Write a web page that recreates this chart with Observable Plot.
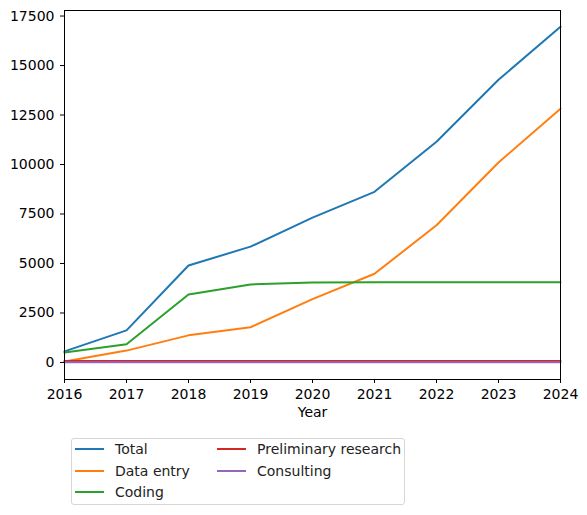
<!DOCTYPE html>
<html><head><meta charset="utf-8">
<script src="https://cdn.jsdelivr.net/npm/d3@7"></script>
<script src="https://cdn.jsdelivr.net/npm/@observablehq/plot@0.6"></script>
<style>
body{margin:0;background:#fff;font-family:"DejaVu Sans",sans-serif;}
#wrap{position:relative;width:587px;height:515px;}
#legend{position:absolute;left:71px;top:438px;width:334px;height:67px;border:1px solid #d6d6d6;border-radius:3px;box-sizing:border-box;font-size:14px;color:#222;}
.sw{position:absolute;width:29px;height:0;border-top:2px solid;}
.lb{position:absolute;line-height:20px;white-space:nowrap;}
</style></head>
<body><div id="wrap"><div id="chart"></div><div id="legend"></div></div>
<script>
const years = [2016, 2017, 2018, 2019, 2020, 2021, 2022, 2023, 2024];
const total = [560, 1620, 4900, 5850, 7320, 8620, 11150, 14280, 16960];
const dataEntry = [50, 600, 1370, 1780, 3200, 4480, 6930, 10100, 12820];
const coding = [500, 920, 3430, 3940, 4040, 4050, 4050, 4050, 4050];
const preliminary = [80, 80, 80, 80, 80, 80, 80, 80, 80];
const consulting = [10, 10, 10, 10, 10, 10, 10, 10, 10];
const seriesNames = ["Total", "Data entry", "Coding", "Preliminary research", "Consulting"];
const seriesValues = [total, dataEntry, coding, preliminary, consulting];
const colors = ["#1f77b4", "#ff7f0e", "#2ca02c", "#d62728", "#9467bd"];
const yTicks = [0, 2500, 5000, 7500, 10000, 12500, 15000, 17500];

const rows = [];
seriesNames.forEach((s, i) => years.forEach((y, j) => rows.push({series: s, year: y, value: seriesValues[i][j]})));

const chart = Plot.plot({
  width: 587, height: 430,
  marginLeft: 64, marginRight: 27, marginTop: 10, marginBottom: 51,
  style: {fontFamily: "DejaVu Sans, sans-serif", fontSize: "14px", color: "#000"},
  x: {domain: [2016, 2024], label: null},
  y: {domain: [-860, 17780], label: null},
  color: {domain: seriesNames, range: colors},
  marks: [
    Plot.line(rows, {x: "year", y: "value", z: "series", stroke: "series", strokeWidth: 2}),
    Plot.frame({stroke: "#000", strokeWidth: 1}),
    Plot.axisX({ticks: years, tickFormat: d => String(d), tickSize: 4, tickPadding: 6, fontSize: 14, label: null}),
    Plot.axisY({ticks: yTicks, tickFormat: d => String(d), tickSize: 4, tickPadding: 6, fontSize: 14, label: null}),
    Plot.text(["Year"], {frameAnchor: "bottom", dy: 37, fontSize: 14})
  ]
});
document.getElementById("chart").appendChild(chart);

const legend = document.getElementById("legend");
const pos = [[3, 11], [3, 32.5], [3, 54], [145, 11], [145, 32.5]];
seriesNames.forEach((s, i) => {
  const sw = document.createElement("span");
  sw.className = "sw";
  sw.style.left = pos[i][0] + "px";
  sw.style.top = (pos[i][1] - 2) + "px";
  sw.style.borderColor = colors[i];
  legend.appendChild(sw);
  const lb = document.createElement("span");
  lb.className = "lb";
  lb.style.left = (pos[i][0] + 40) + "px";
  lb.style.top = (pos[i][1] - 11) + "px";
  lb.textContent = s;
  legend.appendChild(lb);
});
</script></body></html>
